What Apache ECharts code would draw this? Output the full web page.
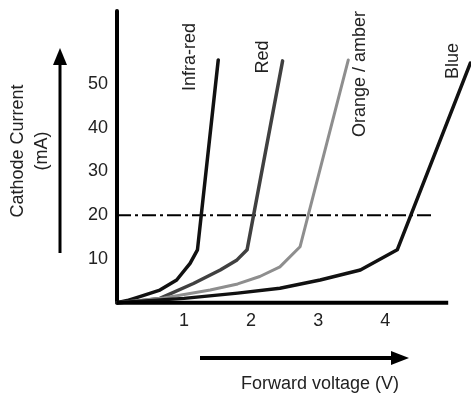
<!DOCTYPE html>
<html><head><meta charset="utf-8">
<script src="https://cdn.jsdelivr.net/npm/echarts@6/dist/echarts.min.js"></script>
<style>html,body{margin:0;padding:0;background:#fff}#c{width:471px;height:394px}</style>
</head><body><div id="c"></div>
<script>
// Tick labels
const xTickLabels = [1, 2, 3, 4];
const yTickLabels = [10, 20, 30, 40, 50];
// Series names
const seriesNames = ['Infra-red', 'Red', 'Orange / amber', 'Blue'];
// Forward voltage (V) and cathode current (mA) per curve
const infraRedV = [0, 0.15, 0.34, 0.64, 0.89, 1.09, 1.2, 1.51];
const infraRedI = [0, 0.5, 1.4, 2.9, 5.2, 9.0, 12.1, 55.5];
const redV = [0, 0.3, 0.64, 1.14, 1.54, 1.79, 1.94, 2.47];
const redI = [0, 0.35, 1.0, 4.4, 7.5, 9.8, 12.1, 55.3];
const orangeV = [0, 0.7, 1.39, 1.8, 2.13, 2.43, 2.73, 3.45];
const orangeI = [0, 1.1, 2.9, 4.3, 6.0, 8.2, 12.8, 55.5];
const blueV = [0, 1.0, 1.8, 2.43, 3.03, 3.63, 4.18, 5.27];
const blueI = [0, 1.0, 2.2, 3.3, 5.2, 7.5, 12.1, 54.8];
// Reference current level (dash-dot)
const refV = [0, 4.69];
const refI = [20, 20];
// Extent of the drawn voltage axis line
const axisV = [0, 4.94];
const axisI = [0, 0];

const zip = (a, b) => a.map((v, i) => [v, b[i]]);
const FONT = "'Liberation Sans', Arial, sans-serif";
const chart = echarts.init(document.getElementById('c'), null, {renderer: 'canvas'});

function curve(name, xs, ys, color, width) {
  return {
    name, type: 'line', data: zip(xs, ys), showSymbol: false, symbol: 'none',
    smooth: false, clip: false,
    lineStyle: {color, width, join: 'round', cap: 'round'}, z: 3, animation: false
  };
}

const option = {
  backgroundColor: '#fff',
  animation: false,
  grid: {left: 117, top: 11, right: 0, bottom: 91.25, containLabel: false},
  xAxis: {
    type: 'value', min: 0, max: 5.28, interval: 1,
    axisLine: {show: false},
    axisTick: {show: false}, splitLine: {show: false},
    axisLabel: {
      margin: 9, fontSize: 18, fontFamily: FONT, color: '#222',
      formatter: v => xTickLabels.includes(v) ? String(v) : '',
      showMaxLabel: false
    }
  },
  yAxis: {
    type: 'value', min: 0, max: 66.7, interval: 10,
    axisLine: {show: true, lineStyle: {color: '#000', width: 4}},
    axisTick: {show: false}, splitLine: {show: false},
    axisLabel: {
      margin: 9, fontSize: 18, fontFamily: FONT, color: '#222',
      formatter: v => yTickLabels.includes(v) ? String(v) : '',
      showMaxLabel: false
    }
  },
  series: [
    {
      type: 'line', data: zip(axisV, axisI), showSymbol: false, symbol: 'none', clip: false,
      lineStyle: {color: '#000', width: 4}, z: 4, animation: false, silent: true
    },
    curve(seriesNames[0], infraRedV, infraRedI, '#111', 3.5),
    curve(seriesNames[1], redV, redI, '#404040', 3.5),
    curve(seriesNames[2], orangeV, orangeI, '#8e8e8e', 3),
    curve(seriesNames[3], blueV, blueI, '#111', 3.5),
    {
      type: 'line', data: zip(refV, refI), showSymbol: false, symbol: 'none',
      lineStyle: {color: '#000', width: 2, type: [14, 4, 3, 4]}, z: 2, animation: false
    }
  ],
  graphic: [
    {type: 'text', x: 190, y: 57, rotation: Math.PI / 2,
     style: {text: seriesNames[0], font: '18px ' + FONT, fill: '#222', textAlign: 'center', textVerticalAlign: 'middle'}},
    {type: 'text', x: 263, y: 57, rotation: Math.PI / 2,
     style: {text: seriesNames[1], font: '18px ' + FONT, fill: '#222', textAlign: 'center', textVerticalAlign: 'middle'}},
    {type: 'text', x: 360, y: 74, rotation: Math.PI / 2,
     style: {text: seriesNames[2], font: '18px ' + FONT, fill: '#222', textAlign: 'center', textVerticalAlign: 'middle'}},
    {type: 'text', x: 453, y: 61, rotation: Math.PI / 2,
     style: {text: seriesNames[3], font: '18px ' + FONT, fill: '#222', textAlign: 'center', textVerticalAlign: 'middle'}},
    {type: 'text', x: 30, y: 151, rotation: Math.PI / 2,
     style: {text: 'Cathode Current\n(mA)', font: '18px ' + FONT, fill: '#222', textAlign: 'center', textVerticalAlign: 'middle', lineHeight: 24}},
    {type: 'line', shape: {x1: 60, y1: 253, x2: 60, y2: 62}, style: {stroke: '#000', lineWidth: 3}},
    {type: 'polygon', shape: {points: [[60, 48], [53, 65], [67, 65]]}, style: {fill: '#000'}},
    {type: 'line', shape: {x1: 200, y1: 358, x2: 393, y2: 358}, style: {stroke: '#000', lineWidth: 4}},
    {type: 'polygon', shape: {points: [[409, 358], [391, 351], [391, 365]]}, style: {fill: '#000'}},
    {type: 'text', x: 320, y: 384,
     style: {text: 'Forward voltage (V)', font: '18px ' + FONT, fill: '#222', textAlign: 'center', textVerticalAlign: 'middle'}}
  ]
};
chart.setOption(option);
</script>
</body></html>
